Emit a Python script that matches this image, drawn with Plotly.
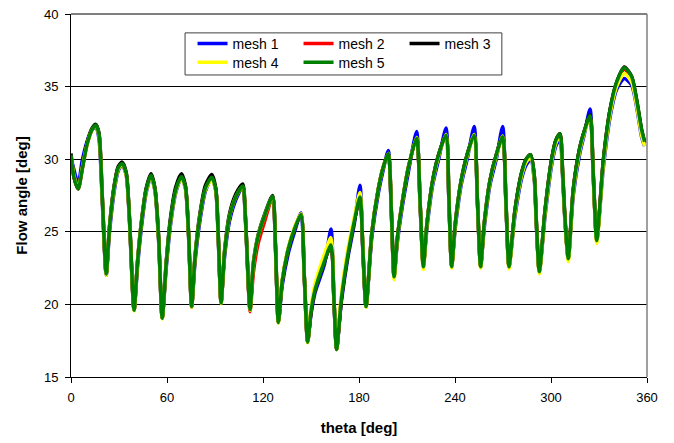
import plotly.graph_objects as go

theta = [0, 2, 4.5, 7, 10, 13, 15.5, 17.5, 19.5, 22,
         24, 27, 29.5, 32, 34.5, 36.5, 39.4, 41.5, 44, 47,
         50, 52.5, 54.8, 57, 59.5, 62, 65.5, 69, 71.5, 73.5,
         75.4, 77.5, 80.5, 84, 88, 90.5, 92, 93.8, 96, 99,
         103, 107.3, 109, 111.9, 114, 117, 121, 126, 127.8, 129.6,
         132, 136, 140, 143.75, 145.8, 147.9, 150, 152.5, 158.5, 162.5,
         164.3, 166, 169, 173, 177, 180.6, 182.5, 184.4, 188, 192,
         195, 198.3, 200.2, 201.9, 204, 207, 211, 216, 218.2, 220.2,
         222.5, 226, 230, 234.4, 236.2, 237.9, 240.2, 243.8, 247.8, 252,
         254, 256, 258.3, 261.8, 265.8, 269.8, 271.8, 273.75, 277.5, 281.7,
         284.5, 287.3, 289.6, 290.8, 292.7, 296.3, 300.4, 303, 305.6, 307.3,
         308.8, 310.8, 313.9, 318, 321, 324.4, 326.4, 328.6, 332.7, 336.9,
         341, 345.8, 350.4, 353.5, 356.7, 358.5]

mesh5 = [30.3, 28.7, 27.95, 29.3, 31.0, 32.0, 32.35, 31.7, 27.5, 22.1,
         25.2, 28.1, 29.4, 29.7, 29.0, 26.0, 19.6, 22.8, 25.6, 27.9,
         28.9, 27.9, 24.5, 19.05, 22.8, 25.6, 27.9, 28.8, 28.1, 24.8,
         19.85, 23.2, 26.0, 28.0, 28.75, 27.9, 24.8, 20.1, 23.6, 26.0,
         27.4, 28.15, 26.0, 19.65, 22.8, 24.7, 26.1, 27.45, 24.0, 18.75,
         21.6, 23.9, 25.3, 26.2, 22.0, 17.4, 19.5, 21.0, 23.0, 24.1,
         20.5, 16.9, 20.4, 23.4, 25.7, 27.4, 23.6, 19.85, 24.9, 27.9,
         29.4, 30.4, 26.5, 21.9, 24.6, 27.0, 29.5, 31.45, 27.0, 22.6,
         25.6, 28.5, 30.4, 31.65, 27.2, 22.6, 25.6, 28.5, 30.4, 31.65,
         27.2, 22.6, 25.6, 28.5, 30.3, 31.55, 27.2, 22.6, 26.5, 29.1,
         30.0, 30.3, 28.8, 25.8, 22.25, 26.5, 30.0, 31.3, 31.75, 29.0,
         25.8, 23.15, 27.9, 30.8, 32.0, 33.0, 29.0, 24.4, 29.9, 33.4,
         35.3, 36.3, 35.7, 34.1, 32.0, 31.2]

mesh4 = [30.2, 28.8, 28.0, 29.4, 31.0, 32.0, 32.3, 31.6, 27.4, 22.0,
         25.2, 28.0, 29.3, 29.65, 28.9, 25.9, 19.55, 22.8, 25.6, 27.8,
         28.8, 27.8, 24.4, 19.0, 22.8, 25.5, 27.8, 28.7, 28.0, 24.7,
         19.8, 23.2, 26.0, 27.9, 28.6, 27.8, 24.7, 20.05, 23.6, 26.0,
         27.4, 28.1, 25.9, 19.6, 22.8, 24.7, 26.1, 27.4, 23.9, 18.7,
         21.7, 24.0, 25.4, 26.25, 21.9, 17.35, 19.8, 21.4, 23.5, 24.6,
         20.6, 16.9, 20.8, 23.8, 26.0, 27.7, 23.7, 19.8, 24.9, 27.9,
         29.4, 30.4, 26.4, 21.7, 24.5, 27.0, 29.5, 31.5, 26.9, 22.4,
         25.5, 28.4, 30.3, 31.7, 27.1, 22.5, 25.5, 28.4, 30.3, 31.7,
         27.1, 22.5, 25.5, 28.4, 30.2, 31.6, 27.1, 22.45, 26.3, 28.9,
         29.8, 30.1, 28.6, 25.7, 22.1, 26.3, 29.8, 31.1, 31.55, 28.8,
         25.6, 22.95, 27.7, 30.6, 31.9, 32.9, 28.8, 24.2, 29.6, 33.1,
         35.0, 35.9, 35.3, 33.7, 31.6, 30.9]

mesh3 = [30.4, 28.7, 28.0, 29.4, 31.1, 32.1, 32.4, 31.8, 27.6, 22.1,
         25.3, 28.2, 29.5, 29.8, 29.1, 26.1, 19.6, 22.9, 25.7, 28.0,
         29.0, 28.0, 24.6, 19.05, 22.9, 25.8, 28.1, 29.0, 28.2, 24.9,
         19.85, 23.3, 26.2, 28.2, 28.95, 28.0, 24.9, 20.1, 23.7, 26.2,
         27.6, 28.3, 26.1, 19.65, 22.9, 24.8, 26.2, 27.5, 24.1, 18.75,
         21.6, 23.9, 25.3, 26.25, 22.0, 17.4, 19.5, 21.0, 23.0, 24.1,
         20.5, 16.9, 20.4, 23.4, 25.7, 27.4, 23.6, 19.85, 24.9, 27.9,
         29.4, 30.4, 26.5, 21.9, 24.6, 27.0, 29.5, 31.5, 27.0, 22.6,
         25.6, 28.5, 30.4, 31.7, 27.2, 22.6, 25.6, 28.5, 30.4, 31.7,
         27.2, 22.6, 25.6, 28.5, 30.3, 31.6, 27.2, 22.6, 26.5, 29.1,
         30.0, 30.3, 28.8, 25.8, 22.25, 26.5, 30.0, 31.3, 31.75, 29.0,
         25.8, 23.15, 27.9, 30.8, 32.0, 33.05, 29.0, 24.4, 29.9, 33.4,
         35.3, 36.35, 35.7, 34.1, 32.0, 31.2]

mesh2 = [30.3, 28.7, 27.95, 29.3, 31.0, 32.0, 32.35, 31.7, 27.5, 22.1,
         25.2, 28.1, 29.4, 29.7, 29.0, 26.0, 19.6, 22.8, 25.6, 27.9,
         28.9, 27.9, 24.5, 19.05, 22.8, 25.6, 27.9, 28.8, 28.1, 24.8,
         19.8, 23.2, 26.0, 28.0, 28.75, 27.9, 24.8, 20.1, 23.6, 26.0,
         27.4, 28.15, 26.0, 19.5, 22.2, 24.2, 25.7, 27.4, 24.0, 18.75,
         21.6, 23.9, 25.3, 26.2, 22.0, 17.4, 19.5, 21.0, 23.0, 24.1,
         20.5, 16.9, 20.4, 23.4, 25.7, 27.4, 23.6, 19.85, 24.9, 27.9,
         29.4, 30.4, 26.5, 21.9, 24.6, 27.0, 29.5, 31.45, 27.0, 22.6,
         25.6, 28.5, 30.4, 31.65, 27.2, 22.6, 25.6, 28.5, 30.4, 31.65,
         27.2, 22.6, 25.6, 28.5, 30.3, 31.55, 27.2, 22.6, 26.5, 29.1,
         30.0, 30.3, 28.8, 25.8, 22.25, 26.5, 30.0, 31.3, 31.75, 29.0,
         25.8, 23.15, 27.9, 30.8, 32.0, 33.0, 29.0, 24.4, 29.9, 33.4,
         35.2, 36.2, 35.6, 34.0, 31.9, 31.1]

mesh1 = [30.1, 29.2, 28.3, 29.9, 31.2, 32.0, 32.2, 31.4, 27.2, 22.0,
         24.9, 27.8, 29.2, 29.6, 28.9, 25.8, 19.6, 22.5, 25.3, 27.7,
         28.8, 27.8, 24.3, 19.1, 22.5, 25.3, 27.7, 28.7, 28.0, 24.6,
         19.9, 22.9, 25.7, 27.8, 28.7, 27.8, 24.6, 20.2, 23.3, 25.7,
         27.2, 28.1, 25.8, 19.7, 22.6, 24.5, 25.9, 27.45, 23.8, 18.8,
         21.3, 23.6, 25.1, 26.3, 21.8, 17.5, 19.3, 20.8, 22.8, 25.2,
         20.3, 17.0, 20.2, 23.2, 25.5, 28.2, 23.4, 19.9, 24.6, 27.6,
         29.2, 30.6, 26.3, 22.0, 24.3, 26.7, 29.2, 31.9, 26.8, 22.7,
         25.3, 28.2, 30.1, 32.15, 27.0, 22.7, 25.3, 28.2, 30.1, 32.25,
         27.0, 22.7, 25.3, 28.2, 30.0, 32.25, 27.0, 22.7, 26.1, 28.7,
         29.6, 30.0, 28.5, 25.6, 22.3, 26.1, 29.6, 30.9, 31.4, 28.7,
         25.6, 23.2, 27.5, 30.4, 31.8, 33.45, 28.8, 24.5, 29.4, 32.9,
         34.8, 35.55, 35.1, 33.6, 31.5, 30.9]

series = [("mesh 1", mesh1, "#0000FF", "legend"),
          ("mesh 2", mesh2, "#FF0000", "legend"),
          ("mesh 3", mesh3, "#000000", "legend"),
          ("mesh 4", mesh4, "#FFFF00", "legend2"),
          ("mesh 5", mesh5, "#008000", "legend2")]

x_ticks = [0, 60, 120, 180, 240, 300, 360]
y_ticks = [15, 20, 25, 30, 35, 40]

FONT = "Arial, Liberation Sans, sans-serif"

fig = go.Figure()
for name, vals, color, lg in series:
    fig.add_trace(go.Scatter(
        x=theta, y=vals, mode="lines", name=name, legend=lg,
        line=dict(color=color, width=3.5, shape="spline", smoothing=0.7)))

leg_common = dict(orientation="h", bgcolor="rgba(0,0,0,0)", borderwidth=0,
                  font=dict(family=FONT, size=14, color="#000"),
                  entrywidth=61, entrywidthmode="pixels",
                  xanchor="left", yanchor="top", tracegroupgap=0,
                  itemwidth=30)

fig.update_layout(
    width=674, height=443,
    margin=dict(l=71, r=27, t=14, b=66, autoexpand=False),
    paper_bgcolor="white", plot_bgcolor="white",
    font=dict(family=FONT, size=13, color="#000"),
    showlegend=True,
    legend=dict(x=0.211, y=0.962, **leg_common),
    legend2=dict(x=0.211, y=0.910, **leg_common),
    xaxis=dict(range=[0, 360], tickvals=x_ticks, ticks="outside", ticklen=5,
               tickcolor="#000", showline=True, linecolor="#000", linewidth=1,
               showgrid=False, zeroline=False, automargin=False,
               ticklabelstandoff=3,
               title=dict(text="<b>theta [deg]</b>", font=dict(size=15), standoff=18)),
    yaxis=dict(range=[15, 40], tickvals=y_ticks, ticks="outside", ticklen=5,
               tickcolor="#000", showline=True, linecolor="#000", linewidth=1,
               showgrid=True, gridcolor="#000", gridwidth=1, zeroline=False,
               automargin=False, ticklabelstandoff=4,
               title=dict(text="<b>Flow angle [deg]</b>", font=dict(size=15), standoff=12)),
    shapes=[
        dict(type="line", xref="paper", yref="paper", x0=0, x1=1, y0=1, y1=1,
             line=dict(color="#000000", width=1), layer="below"),
        dict(type="line", xref="paper", yref="paper", x0=1, x1=1, y0=0, y1=1,
             line=dict(color="#808080", width=1.5)),
        dict(type="rect", xref="paper", yref="paper",
             x0=0.198, x1=0.748, y0=0.832, y1=0.948,
             line=dict(color="#404040", width=1), fillcolor="white", layer="above"),
    ],
)

fig.write_html("out.html")
